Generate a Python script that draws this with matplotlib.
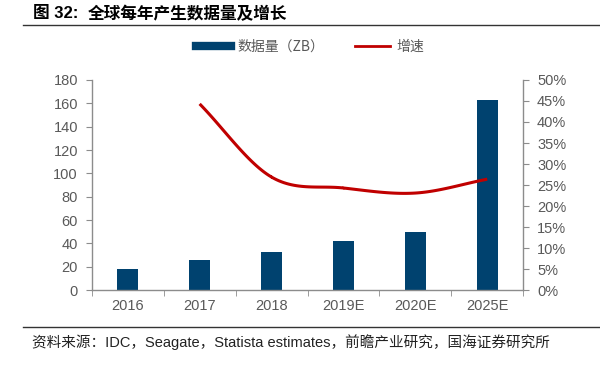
import matplotlib
matplotlib.use("Agg")
import matplotlib.pyplot as plt
import numpy as np
from matplotlib.lines import Line2D

plt.rcParams['font.family'] = ['Liberation Sans', 'Noto Sans CJK SC', 'DejaVu Sans']

# data
years = ['2016', '2017', '2018', '2019E', '2020E', '2025E']
volume_zb = [18, 26, 33, 42, 50, 163]
growth_years = ['2017', '2018', '2019E', '2020E', '2025E']
growth_pct = [44.3, 26.9, 24.3, 23.1, 26.4]

BAR_COLOR = '#00426f'
LINE_COLOR = '#c00000'
AXIS_COLOR = '#8c8c8c'
TEXT_COLOR = '#595959'

fig = plt.figure(figsize=(6, 3.65), dpi=100)
ax = fig.add_axes([0.153, 0.205, 0.719, 0.576])
ax2 = ax.twinx()

x = np.arange(len(years))
ax.bar(x, volume_zb, width=0.29, color=BAR_COLOR, zorder=2)

# smoothed growth line (like Excel smoothed line)
gx = np.array([years.index(y) for y in growth_years], dtype=float)
gy = np.array(growth_pct)
def catmull(px, py, n=30):
    px = np.concatenate([[2 * px[0] - px[1]], px, [2 * px[-1] - px[-2]]])
    py = np.concatenate([[2 * py[0] - py[1]], py, [2 * py[-1] - py[-2]]])
    xs, ys = [], []
    for i in range(1, len(px) - 2):
        t = np.linspace(0, 1, n)
        for arr, out in ((px, xs), (py, ys)):
            p0, p1, p2, p3 = arr[i - 1], arr[i], arr[i + 1], arr[i + 2]
            out.extend(0.5 * (2 * p1 + (-p0 + p2) * t
                              + (2 * p0 - 5 * p1 + 4 * p2 - p3) * t ** 2
                              + (-p0 + 3 * p1 - 3 * p2 + p3) * t ** 3))
    return np.array(xs), np.array(ys)
sx, sy = catmull(gx, gy)
ax2.plot(sx, sy, color=LINE_COLOR, lw=2.2, solid_capstyle='butt', zorder=3)

ax.set_xlim(-0.5, len(years) - 0.5)
ax.set_ylim(0, 180)
ax.set_yticks(range(0, 181, 20))
ax2.set_ylim(0, 50)
ax2.set_yticks(range(0, 51, 5))
ax2.set_yticklabels([f'{v}%' for v in range(0, 51, 5)])

ax.set_xticks(x)
ax.set_xticklabels(years)
ax.set_xticks(np.arange(-0.5, len(years), 1), minor=True)
ax.tick_params(axis='x', which='major', length=0, pad=6)
ax.tick_params(axis='x', which='minor', length=4, color=AXIS_COLOR, direction='out')

for a in (ax, ax2):
    for s in a.spines.values():
        s.set_visible(False)
    a.tick_params(axis='y', length=4, color=AXIS_COLOR, labelsize=10.5,
                  labelcolor=TEXT_COLOR, pad=6)
ax.tick_params(axis='x', labelsize=10.5, labelcolor=TEXT_COLOR)
ax.spines['left'].set_visible(True)
ax.spines['bottom'].set_visible(True)
ax2.spines['right'].set_visible(True)
for s in (ax.spines['left'], ax.spines['bottom'], ax2.spines['right']):
    s.set_color(AXIS_COLOR)
    s.set_linewidth(1)

handles = [Line2D([0], [0], color=BAR_COLOR, lw=6),
           Line2D([0], [0], color=LINE_COLOR, lw=2)]
fig.legend(handles, ['数据量（ZB）', '增速'], loc='center', bbox_to_anchor=(0.517, 0.872),
           ncol=2, frameon=False, handlelength=2.5, handletextpad=0.5, columnspacing=2.2,
           labelcolor=TEXT_COLOR, prop={'family': ['Noto Sans CJK SC'], 'size': 10})

fig.text(0.055, 0.962, '图 32:', fontsize=12, fontweight='bold',
         va='center', ha='left', family=['Liberation Sans', 'Noto Sans CJK SC'])
fig.text(0.147, 0.962, '全球每年产生数据量及增长', fontsize=12, fontweight='bold',
         va='center', ha='left', family=['Noto Sans CJK SC'])
fig.add_artist(Line2D([0.038, 1.0], [0.932, 0.932], color='#333333', lw=1))
fig.add_artist(Line2D([0.038, 1.0], [0.104, 0.104], color='#333333', lw=1))
fig.text(0.053, 0.063, '资料来源：IDC，Seagate，Statista estimates，前瞻产业研究，国海证券研究所',
         fontsize=10.5, va='center', ha='left', color='#222222',
         family=['Liberation Sans', 'Noto Sans CJK SC'])

fig.savefig('out.png', dpi=100)
